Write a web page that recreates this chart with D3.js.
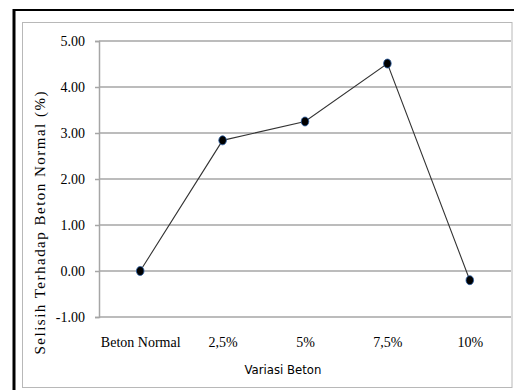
<!DOCTYPE html>
<html><head><meta charset="utf-8">
<script src="https://cdn.jsdelivr.net/npm/d3@7"></script>
<style>body{margin:0;background:#fff;}svg{display:block;}</style>
</head><body>
<svg id="c" width="514" height="390"></svg>
<script>
const categories = ["Beton Normal", "2,5%", "5%", "7,5%", "10%"];
const values = [0, 2.84, 3.25, 4.51, -0.2];
const yTicks = [-1, 0, 1, 2, 3, 4, 5];
const yTitle = "Selisih Terhadap Beton Normal (%)";
const xTitle = "Variasi Beton";

const svg = d3.select("#c");
const L = 99, R = 511, T = 41, B = 317;

// frames
svg.append("line").attr("x1",14).attr("x2",14).attr("y1",9).attr("y2",390).attr("stroke","#000").attr("stroke-width",3);
svg.append("line").attr("x1",13).attr("x2",514).attr("y1",10).attr("y2",10).attr("stroke","#000").attr("stroke-width",2);
svg.append("rect").attr("x",22.5).attr("y",22.5).attr("width",489.5).attr("height",365).attr("fill","none").attr("stroke","#b8b8b8").attr("stroke-width",1);

const x = d3.scalePoint().domain(categories).range([L, R]).padding(0.5);
const y = d3.scaleLinear().domain([-1, 5]).range([B, T]);

// gridlines
svg.append("g").selectAll("line").data(yTicks).join("line")
  .attr("x1", L).attr("x2", R).attr("y1", d => y(d)).attr("y2", d => y(d))
  .attr("stroke", "#a6a6a6").attr("stroke-width", 1.5);

// y axis
const fmt = d => d3.format(".2f")(d).replace("\u2212", "-");
const yAxis = d3.axisLeft(y).tickValues(yTicks).tickFormat(fmt).tickSize(4).tickPadding(10);
const gy = svg.append("g").attr("transform", `translate(${L},0)`).call(yAxis);
gy.select(".domain").attr("stroke", "#a6a6a6").attr("stroke-width", 1.5);
gy.selectAll(".tick line").attr("stroke", "#a6a6a6").attr("stroke-width", 1.5);
gy.selectAll(".tick text").attr("font-family", "'Liberation Serif','Times New Roman',serif")
  .attr("font-size", 14).attr("fill", "#000").attr("dy", "0.35em");

// x axis labels
const xAxis = d3.axisBottom(x).tickSize(0).tickPadding(20);
const gx = svg.append("g").attr("transform", `translate(0,${B})`).call(xAxis);
gx.select(".domain").remove();
gx.selectAll(".tick text").attr("font-family", "'Liberation Serif','Times New Roman',serif")
  .attr("font-size", 14).attr("fill", "#000");

// titles
svg.append("text").attr("x", 283).attr("y", 374).attr("text-anchor", "middle")
  .attr("font-family", "'Liberation Sans Narrow','DejaVu Sans Condensed',sans-serif")
  .attr("font-size", 13).attr("fill", "#000").text(xTitle);
svg.append("text").attr("transform", "translate(45,223) rotate(-90)").attr("text-anchor", "middle")
  .attr("font-family", "'Liberation Serif','Times New Roman',serif")
  .attr("font-size", 15).attr("fill", "#000")
  .attr("textLength", 263).attr("lengthAdjust", "spacing").text(yTitle);

// line
const line = d3.line().x((d,i) => x(categories[i])).y(d => y(d));
svg.append("path").datum(values).attr("d", line).attr("fill", "none")
  .attr("stroke", "#333").attr("stroke-width", 1.1);

// markers
svg.append("g").selectAll("ellipse").data(values).join("ellipse")
  .attr("cx", (d,i) => x(categories[i])).attr("cy", d => y(d))
  .attr("rx", 3.8).attr("ry", 4.5).attr("fill", "#000")
  .attr("stroke", "#2a5fa8").attr("stroke-width", 0.8);
</script>
</body></html>
